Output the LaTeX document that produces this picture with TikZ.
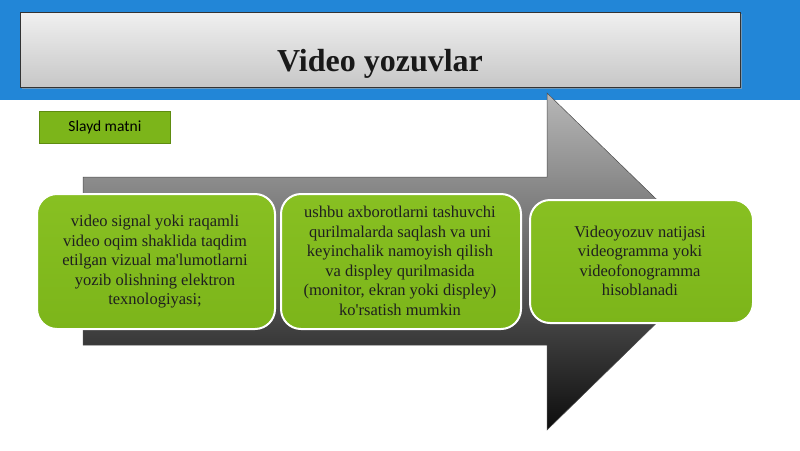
\documentclass[tikz,border=0pt]{standalone}
\usepackage{fontspec}
\setmainfont{Liberation Serif}
\newfontfamily\carlito{Carlito}
\definecolor{band}{HTML}{2286D7}
\definecolor{grn}{HTML}{7CB51A}
\definecolor{grnlight}{HTML}{88C022}
\definecolor{grndark}{HTML}{5E8C10}
\begin{document}
\begin{tikzpicture}[x=1pt,y=-1pt,
  greenbox/.style={draw=white,line width=2pt,rounded corners=20pt,top color=grnlight,bottom color=grn,inner sep=0pt},
  boxtext/.style={font=\fontsize{16.5}{19.5}\selectfont,text=black!88,align=center},
  ]
\useasboundingbox (0,0) rectangle (800,450);
\fill[white] (0,0) rectangle (800,450);
\fill[band] (0,0) rectangle (800,100);
% title box
\fill[black!35,opacity=0.6] (22,14) rectangle (742,89);
\node[draw=black!80,line width=0.6pt,top color=black!6,bottom color=black!22,
  minimum width=720pt,minimum height=75pt,anchor=north west,inner sep=0pt] (title) at (20,12) {};
\node[font=\fontsize{32}{36}\bfseries\selectfont,text=black!90] (titletext) at (380,64) {Video yozuvlar};
% slayd matni
\node[draw=grndark,line width=0.8pt,fill=grn,minimum width=131pt,minimum height=32pt,anchor=north west,
  inner sep=0pt,font=\carlito\fontsize{15.5}{17}\selectfont] (slayd) at (39,111) {Slayd matni};
% big arrow
\shade[top color=black!28,bottom color=black!95,draw=black!70,line width=0.5pt]
  (83,177) -- (547,177) -- (547,93) -- (720,261) -- (547,430) -- (547,345) -- (83,345) -- cycle;
% green boxes
\node[greenbox,minimum width=238pt,minimum height=135pt,anchor=north west] (b1) at (36,193) {};
\node[boxtext] (t1) at (155,262)
  {video signal yoki raqamli\\video oqim shaklida taqdim\\etilgan vizual ma\textquotesingle lumotlarni\\yozib olishning elektron\\texnologiyasi;};
\node[greenbox,minimum width=240pt,minimum height=135pt,anchor=north west] (b2) at (280,193) {};
\node[boxtext] (t2) at (400,261)
  {ushbu axborotlarni tashuvchi\\qurilmalarda saqlash va uni\\keyinchalik namoyish qilish\\va displey qurilmasida\\(monitor, ekran yoki displey)\\ko\textquotesingle rsatish mumkin};
\node[greenbox,minimum width=223pt,minimum height=123pt,anchor=north west] (b3) at (529,199) {};
\node[boxtext] (t3) at (640,261)
  {Videoyozuv natijasi\\videogramma yoki\\videofonogramma\\hisoblanadi};
\end{tikzpicture}
\end{document}
